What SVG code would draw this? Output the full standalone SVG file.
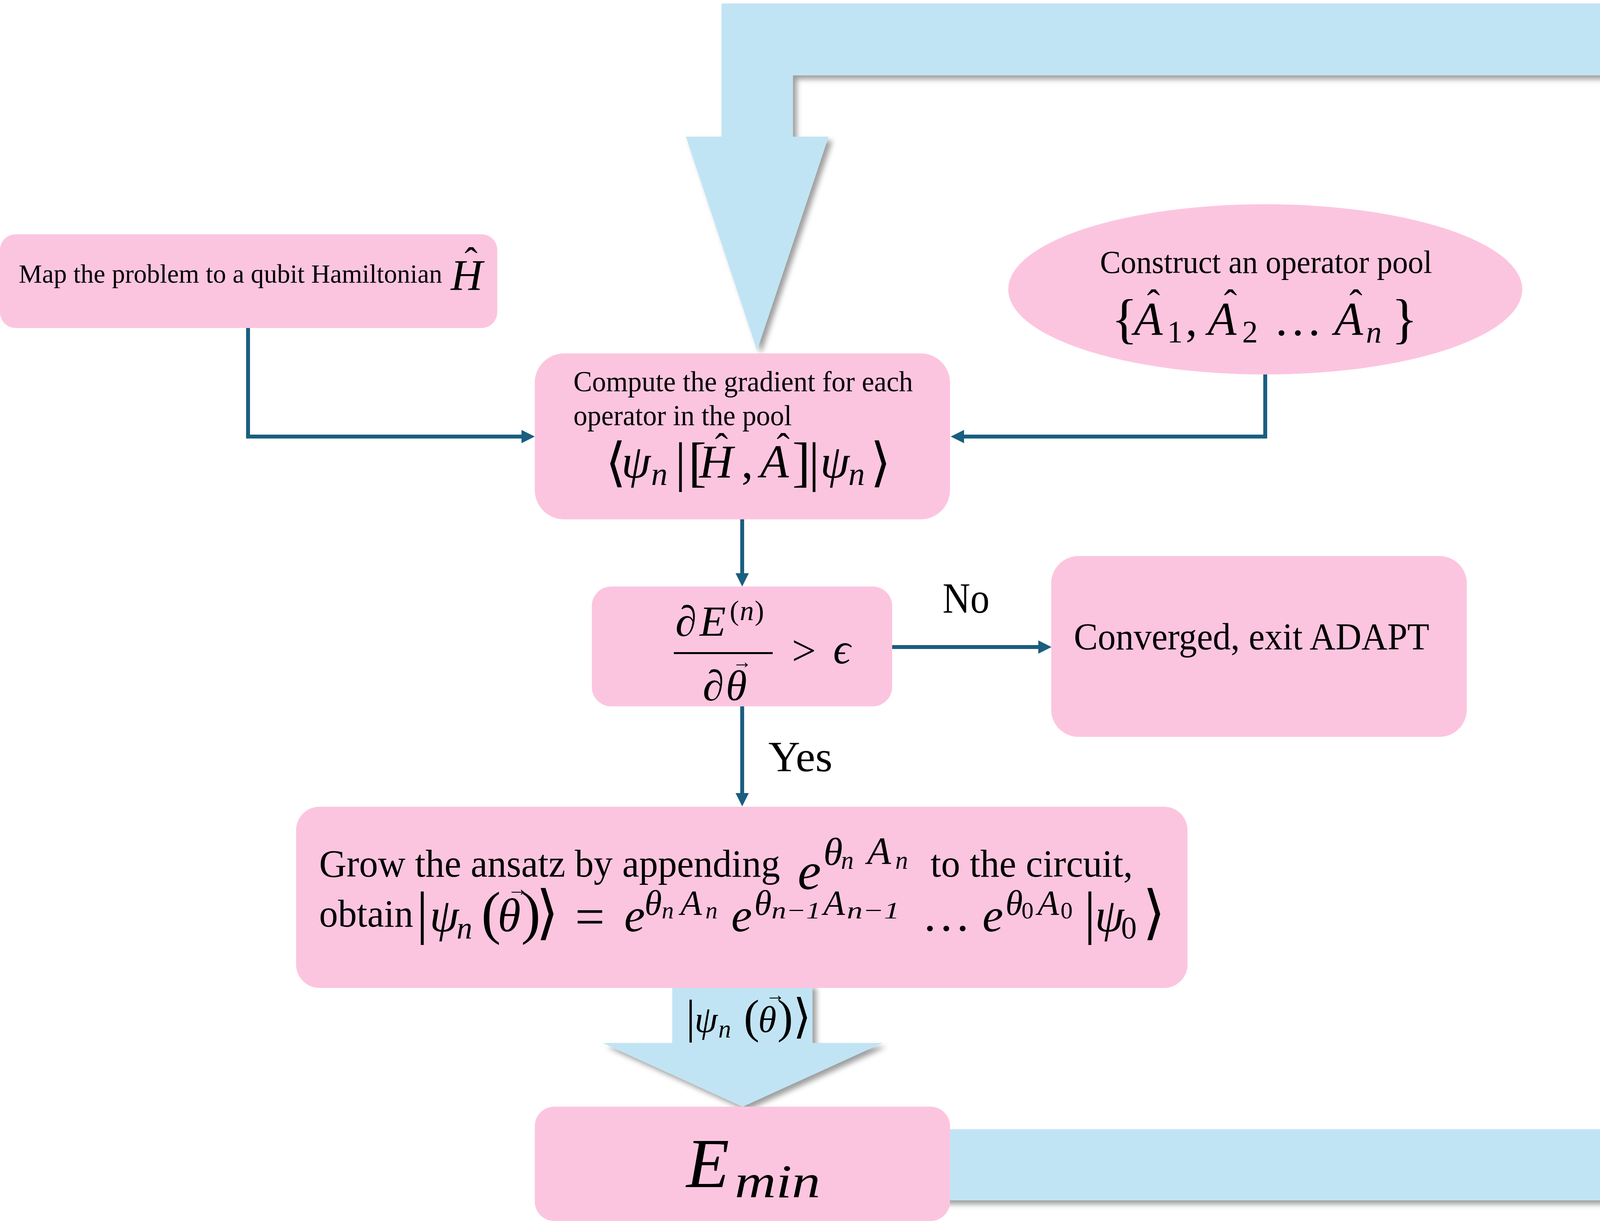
<svg xmlns="http://www.w3.org/2000/svg" width="4385" height="3132" viewBox="0 0 4385 3132">
<defs>
<style>
.t{font-family:"Liberation Serif","DejaVu Serif",serif;fill:#000}
.i{font-style:italic}
.node{fill:#fcc5df}
.pipe{fill:#c1e4f4}
.conn{stroke:#1a5e80;stroke-width:10;fill:none}
.hat{font-family:"Liberation Serif","DejaVu Serif",serif;font-size:100px;text-anchor:middle}
.vec{font-family:"Liberation Serif","DejaVu Serif",serif;text-anchor:middle}
</style>
<filter id="sh" x="-5%" y="-5%" width="115%" height="115%">
<feDropShadow dx="10" dy="10" stdDeviation="7" flood-color="#000" flood-opacity="0.38"/>
</filter>
<marker id="ah" markerUnits="userSpaceOnUse" markerWidth="36" markerHeight="34" refX="2" refY="17" orient="auto">
<path d="M0,0 L34,17 L0,34 Z" fill="#1a5e80"/>
</marker>
</defs>
<rect width="4385" height="3132" fill="#fff"/>

<g id="feedback-pipe">
<path class="pipe" filter="url(#sh)" d="M1847,9 H4357 V3074 H2400 V2892 H4174 V193 H2030 V350 H2121 L1938,897 L1756,350 H1847 Z"/>
<text class="t i" font-size="150" transform="translate(4330,1664) rotate(-90)">θ</text>
<text class="vec" font-size="60" textLength="67" lengthAdjust="spacingAndGlyphs" transform="translate(4330,1664) rotate(-90)" x="56" y="-126">→</text>
<g transform="translate(4288,1400) rotate(-90)">
<text class="t i" font-size="130">E</text>
<text class="t i" font-size="90" x="83" y="20" textLength="162" lengthAdjust="spacingAndGlyphs">min</text>
</g>
</g>

<g id="state-arrow">
<path class="pipe" filter="url(#sh)" d="M1721,2520 H2080 V2671 H2259 L1901,2834 L1543,2671 H1721 Z"/>
<text class="t" font-size="120" x="1756" y="2644">|</text>
<text class="t i" font-size="95" x="1778" y="2643">ψ</text>
<text class="t i" font-size="65" x="1839" y="2657">n</text>
<text class="t" font-size="120" x="1904" y="2644">(</text>
<text class="t i" font-size="95" x="1941" y="2643">θ</text>
<text class="vec" font-size="50" x="1985" y="2564">→</text>
<text class="t" font-size="120" x="1990" y="2644">)</text>
<text class="t" font-size="120" x="2030" y="2644">⟩</text>
</g>

<g id="connectors">
<path class="conn" marker-end="url(#ah)" d="M635,840 V1118 H1337"/>
<path class="conn" marker-end="url(#ah)" d="M3239,959 V1118 H2466"/>
<path class="conn" marker-end="url(#ah)" d="M1900,1330 V1470"/>
<path class="conn" marker-end="url(#ah)" d="M2284,1657 H2660"/>
<path class="conn" marker-end="url(#ah)" d="M1900,1809 V2033"/>
<text class="t" font-size="110" x="2413" y="1569" textLength="120" lengthAdjust="spacingAndGlyphs">No</text>
<text class="t" font-size="110" x="1967" y="1975" textLength="164" lengthAdjust="spacingAndGlyphs">Yes</text>
</g>

<g id="map-node">
<rect class="node" x="0" y="600" width="1273" height="240" rx="40"/>
<text class="t" font-size="68" x="48" y="724" textLength="1084" lengthAdjust="spacingAndGlyphs">Map the problem to a qubit Hamiltonian</text>
<text class="t i" font-size="113" x="1154" y="742">H</text>
<text class="hat" x="1206" y="703">ˆ</text>
</g>

<g id="pool-node">
<ellipse class="node" cx="3239" cy="741" rx="658" ry="218"/>
<text class="t" font-size="82" x="2816" y="699" textLength="850" lengthAdjust="spacingAndGlyphs">Construct an operator pool</text>
<text class="t" font-size="140" x="2845" y="863">{</text>
<text class="t i" font-size="120" x="2903" y="858">A</text>
<text class="hat" x="2953" y="811">ˆ</text>
<text class="t" font-size="80" x="2988" y="877">1</text>
<text class="t" font-size="120" x="3035" y="858">,</text>
<text class="t i" font-size="120" x="3092" y="858">A</text>
<text class="hat" x="3150" y="811">ˆ</text>
<text class="t" font-size="80" x="3180" y="877">2</text>
<text class="t" font-size="120" x="3260" y="858" textLength="125" lengthAdjust="spacingAndGlyphs">…</text>
<text class="t i" font-size="120" x="3416" y="858">A</text>
<text class="hat" x="3471" y="811">ˆ</text>
<text class="t i" font-size="80" x="3497" y="877">n</text>
<text class="t" font-size="140" x="3562" y="863">}</text>
</g>

<g id="gradient-node">
<rect class="node" x="1369" y="905" width="1063" height="425" rx="75"/>
<text class="t" font-size="74" x="1468" y="1002" textLength="869" lengthAdjust="spacingAndGlyphs">Compute the gradient for each</text>
<text class="t" font-size="74" x="1468" y="1089" textLength="559" lengthAdjust="spacingAndGlyphs">operator in the pool</text>
<text class="t" font-size="135" x="1550" y="1230">⟨</text>
<text class="t i" font-size="120" x="1591" y="1223">ψ</text>
<text class="t i" font-size="84" x="1667" y="1242">n</text>
<text class="t" font-size="140" x="1728" y="1230">|</text>
<text class="t" font-size="140" x="1762" y="1230">[</text>
<text class="t i" font-size="120" x="1790" y="1223">H</text>
<text class="hat" x="1847" y="1179">ˆ</text>
<text class="t" font-size="120" x="1898" y="1223">,</text>
<text class="t i" font-size="120" x="1946" y="1223">A</text>
<text class="hat" x="2005" y="1179">ˆ</text>
<text class="t" font-size="140" x="2028" y="1230">]</text>
<text class="t" font-size="140" x="2070" y="1230">|</text>
<text class="t i" font-size="120" x="2100" y="1223">ψ</text>
<text class="t i" font-size="84" x="2172" y="1242">n</text>
<text class="t" font-size="135" x="2228" y="1230">⟩</text>
</g>

<g id="decision-node">
<rect class="node" x="1515" y="1502" width="769" height="307" rx="50"/>
<text class="t i" font-size="110" x="1729" y="1628">∂</text>
<text class="t i" font-size="110" x="1791" y="1628">E</text>
<text class="t" font-size="72" x="1868" y="1588">(</text>
<text class="t i" font-size="72" x="1894" y="1588">n</text>
<text class="t" font-size="72" x="1932" y="1588">)</text>
<rect x="1725" y="1670" width="253" height="5" fill="#000"/>
<text class="t i" font-size="110" x="1799" y="1793">∂</text>
<text class="t i" font-size="110" x="1858" y="1793">θ</text>
<text class="vec" font-size="50" x="1900" y="1711">→</text>
<text class="t" font-size="110" x="2027" y="1703">&gt;</text>
<text class="t i" font-size="110" x="2133" y="1699">ϵ</text>
</g>

<g id="converged-node">
<rect class="node" x="2691" y="1424" width="1064" height="463" rx="70"/>
<text class="t" font-size="98" x="2749" y="1663" textLength="910" lengthAdjust="spacingAndGlyphs">Converged, exit ADAPT</text>
</g>

<g id="grow-node">
<rect class="node" x="758" y="2066" width="2282" height="464" rx="60"/>
<text class="t" font-size="100" x="817" y="2245" textLength="1180" lengthAdjust="spacingAndGlyphs">Grow the ansatz by appending</text>
<text class="t i" font-size="135" x="2042" y="2277">e</text>
<text class="t i" font-size="100" x="2108" y="2215">θ</text>
<text class="t i" font-size="65" x="2153" y="2225">n</text>
<text class="t i" font-size="100" x="2220" y="2213">A</text>
<text class="t i" font-size="65" x="2292" y="2225">n</text>
<text class="t" font-size="100" x="2382" y="2245" textLength="518" lengthAdjust="spacingAndGlyphs">to the circuit,</text>
<text class="t" font-size="100" x="817" y="2373" textLength="241" lengthAdjust="spacingAndGlyphs">obtain</text>
<text class="t" font-size="150" x="1066" y="2388">|</text>
<text class="t i" font-size="120" x="1100" y="2385">ψ</text>
<text class="t i" font-size="80" x="1169" y="2403">n</text>
<text class="t" font-size="150" x="1232" y="2388">(</text>
<text class="t i" font-size="120" x="1274" y="2385">θ</text>
<text class="vec" font-size="55" x="1326" y="2294">→</text>
<text class="t" font-size="150" x="1334" y="2388">)</text>
<text class="t" font-size="150" x="1372" y="2388">⟩</text>
<text class="t" font-size="135" x="1472" y="2393">=</text>
<text class="t i" font-size="120" x="1598" y="2385">e</text>
<text class="t i" font-size="90" x="1650" y="2343">θ</text>
<text class="t i" font-size="62" x="1694" y="2352">n</text>
<text class="t i" font-size="90" x="1742" y="2343">A</text>
<text class="t i" font-size="62" x="1806" y="2352">n</text>
<text class="t i" font-size="120" x="1872" y="2385">e</text>
<text class="t i" font-size="90" x="1931" y="2343">θ</text>
<text class="t i" font-size="62" x="1975" y="2352" textLength="126" lengthAdjust="spacingAndGlyphs">n−1</text>
<text class="t i" font-size="90" x="2108" y="2343">A</text>
<text class="t i" font-size="62" x="2168" y="2352" textLength="135" lengthAdjust="spacingAndGlyphs">n−1</text>
<text class="t" font-size="120" x="2360" y="2383" textLength="125" lengthAdjust="spacingAndGlyphs">…</text>
<text class="t i" font-size="120" x="2515" y="2385">e</text>
<text class="t i" font-size="90" x="2574" y="2343">θ</text>
<text class="t" font-size="62" x="2615" y="2352">0</text>
<text class="t i" font-size="90" x="2656" y="2343">A</text>
<text class="t" font-size="62" x="2715" y="2352">0</text>
<text class="t" font-size="150" x="2775" y="2388">|</text>
<text class="t i" font-size="120" x="2803" y="2385">ψ</text>
<text class="t" font-size="80" x="2870" y="2403">0</text>
<text class="t" font-size="150" x="2925" y="2388">⟩</text>
</g>

<g id="emin-node">
<rect class="node" x="1369" y="2834" width="1063" height="293" rx="50"/>
<text class="t i" font-size="180" x="1757" y="3040">E</text>
<text class="t i" font-size="120" x="1881" y="3066" textLength="219" lengthAdjust="spacingAndGlyphs">min</text>
</g>
</svg>
